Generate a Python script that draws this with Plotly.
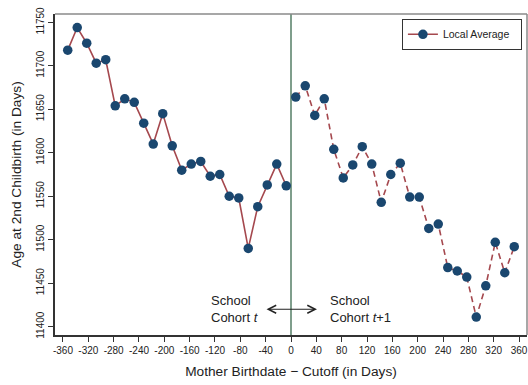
import plotly.graph_objects as go

x_left = [-352.5, -337.5, -322.5, -307.5, -292.5, -277.5, -262.5, -247.5, -232.5, -217.5,
          -202.5, -187.5, -172.5, -157.5, -142.5, -127.5, -112.5, -97.5, -82.5, -67.5,
          -52.5, -37.5, -22.5, -7.5]
y_left = [11718, 11744, 11726, 11703, 11707, 11654, 11662, 11658, 11634, 11610,
          11645, 11608, 11580, 11587, 11590, 11573, 11575, 11550, 11548, 11490,
          11538, 11563, 11587, 11562]
x_right = [7.5, 22.5, 37.5, 52.5, 67.5, 82.5, 97.5, 112.5, 127.5, 142.5,
           157.5, 172.5, 187.5, 202.5, 217.5, 232.5, 247.5, 262.5, 277.5, 292.5,
           307.5, 322.5, 337.5, 352.5]
y_right = [11664, 11677, 11643, 11662, 11604, 11571, 11586, 11607, 11587, 11543,
           11575, 11588, 11549, 11549, 11513, 11518, 11468, 11464, 11457, 11411,
           11447, 11497, 11462, 11492]
x_ticks = list(range(-360, 361, 40))
x_tick_labels = [str(v) for v in x_ticks]  # plain hyphen minus as in reference
y_ticks = [11400, 11450, 11500, 11550, 11600, 11650, 11700, 11750]

MARKER = "#1a476f"
LINE = "#a5484e"
VLINE = "#7f9e8c"
FONT = "Liberation Sans, Arial, sans-serif"

fig = go.Figure()
fig.add_trace(go.Scatter(x=x_left, y=y_left, mode="lines+markers",
                         name="Local Average\u00a0\u00a0",
                         line=dict(color=LINE, width=1.6),
                         marker=dict(color=MARKER, size=9.5, line=dict(width=0))))
fig.add_trace(go.Scatter(x=x_right, y=y_right, mode="lines+markers", showlegend=False,
                         line=dict(color=LINE, width=1.6, dash="6px,4px"),
                         marker=dict(color=MARKER, size=9.5, line=dict(width=0))))

fig.add_vline(x=0, line=dict(color=VLINE, width=2), layer="below")

# top/right frame
fig.add_shape(type="line", xref="paper", yref="paper", x0=0, x1=1, y0=1, y1=1,
              line=dict(color="#8a8a8a", width=1.5))
fig.add_shape(type="line", xref="paper", yref="paper", x0=1, x1=1, y0=0, y1=1,
              line=dict(color="#8a8a8a", width=1.5))

fig.add_annotation(x=41, y=11420, ax=-41, ay=11420, axref="x", ayref="y", xref="x", yref="y",
                   text="", showarrow=True, arrowhead=5, startarrowhead=5, arrowside="end+start",
                   arrowsize=1.3, arrowwidth=1.2, arrowcolor="#222")
fig.add_annotation(x=-130, y=11420, xref="x", yref="y", xanchor="left", yanchor="middle",
                   text="School<br>Cohort <i>t</i>", showarrow=False, align="left",
                   font=dict(size=13, color="#222", family=FONT))
fig.add_annotation(x=59, y=11420, xref="x", yref="y", xanchor="left", yanchor="middle",
                   text="School<br>Cohort <i>t</i>+1", showarrow=False, align="left",
                   font=dict(size=13, color="#222", family=FONT))

fig.update_layout(
    width=528, height=385,
    margin=dict(l=55, r=1, t=14, b=50, autoexpand=False),
    paper_bgcolor="white", plot_bgcolor="white",
    font=dict(family=FONT, color="#222", size=10),
    legend=dict(x=0.735, y=0.985, xanchor="left", yanchor="top",
                bordercolor="#333", borderwidth=1, bgcolor="white",
                font=dict(size=10.5, family=FONT)),
    xaxis=dict(range=[-372.6, 372.6], tickvals=x_ticks, ticktext=x_tick_labels,
               showgrid=False, zeroline=False,
               showline=True, linecolor="#333", linewidth=1.5, ticks="outside", ticklen=5,
               tickcolor="#333", tickangle=0, tickfont=dict(size=10), automargin=False,
               ticklabeloverflow="allow",
               title=dict(text="Mother Birthdate \u2212 Cutoff (in Days)", font=dict(size=13.7), standoff=12)),
    yaxis=dict(range=[11390.4, 11759.6], tickvals=y_ticks, tickformat="d", showgrid=False, zeroline=False,
               showline=True, linecolor="#333", linewidth=1.5, ticks="outside", ticklen=5,
               tickcolor="#333", tickangle=-90, tickfont=dict(size=10), automargin=False,
               title=dict(text="Age at 2nd Childbirth (in Days)", font=dict(size=13.7), standoff=10)),
)

fig.write_html("out.html", config={"displayModeBar": False},
               post_script="document.body.style.margin='0';")
